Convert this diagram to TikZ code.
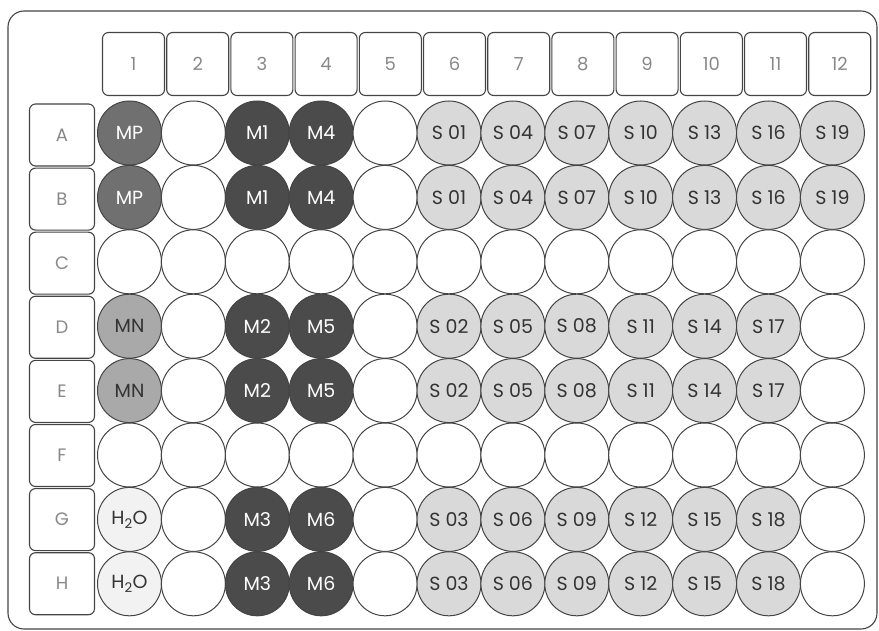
\documentclass[tikz,border=0pt]{standalone}
\usepackage{fontspec}
\setmainfont{Poppins}
\definecolor{mpfill}{HTML}{707070}
\definecolor{mfill}{HTML}{4B4B4B}
\definecolor{mnfill}{HTML}{A9A9A9}
\definecolor{sfill}{HTML}{D9D9D9}
\definecolor{hfill}{HTML}{F2F2F2}
\definecolor{edge}{HTML}{444444}
\definecolor{lbl}{HTML}{888888}
\definecolor{dtxt}{HTML}{333333}
\begin{document}
\begin{tikzpicture}[x=1pt,y=-1pt,
  hdr/.style={draw=edge,line width=1.1pt,rounded corners=6pt,minimum width=62pt,minimum height=63pt,inner sep=0pt,text=lbl,font=\fontsize{18}{18}\selectfont},
  rowlbl/.style={draw=edge,line width=1.1pt,rounded corners=6pt,minimum width=65pt,minimum height=62pt,inner sep=0pt,text=lbl,font=\fontsize{18}{18}\selectfont},
  well/.style={circle,draw=edge,line width=1pt,minimum size=64pt,inner sep=0pt,fill=white,font=\fontsize{19}{19}\selectfont},
  mp/.style={well,fill=mpfill,text=white},
  mm/.style={well,fill=mfill,text=white},
  mn/.style={well,fill=mnfill,text=dtxt},
  ss/.style={well,fill=sfill,text=dtxt},
  hw/.style={well,fill=hfill,text=dtxt}]
\useasboundingbox (0,0) rectangle (879,631);
\draw[edge,line width=1.1pt,rounded corners=16pt] (8,11) rectangle (877,629);
% column headers
\foreach \c in {1,...,12}{
  \node[hdr] (h\c) at ({133.5+(\c-1)*64.2},64) {\c};
}
% row labels
\foreach \r/\L in {1/A,2/B,3/C,4/D,5/E,6/F,7/G,8/H}{
  \node[rowlbl] (r\L) at (62,{135+(\r-1)*64.1}) {\L};
}
% well positions
\foreach \r/\L in {1/A,2/B,3/C,4/D,5/E,6/F,7/G,8/H}{
  \foreach \c in {1,...,12}{
    \coordinate (p\L\c) at ({129.5+(\c-1)*63.9},{133+(\r-1)*64.4});
  }
}
% rows A,B
\foreach \L in {A,B}{
  \node[mp] (w\L1) at (p\L1) {MP};
  \node[well] (w\L2) at (p\L2) {};
  \node[mm] (w\L3) at (p\L3) {M1};
  \node[mm] (w\L4) at (p\L4) {M4};
  \node[well] (w\L5) at (p\L5) {};
  \foreach \c/\s in {6/01,7/04,8/07,9/10,10/13,11/16,12/19}{
    \node[ss] (w\L\c) at (p\L\c) {S \s};
  }
}
% rows C,F empty
\foreach \L in {C,F}{
  \foreach \c in {1,...,12}{
    \node[well] (w\L\c) at (p\L\c) {};
  }
}
% rows D,E
\foreach \L in {D,E}{
  \node[mn] (w\L1) at (p\L1) {MN};
  \node[well] (w\L2) at (p\L2) {};
  \node[mm] (w\L3) at (p\L3) {M2};
  \node[mm] (w\L4) at (p\L4) {M5};
  \node[well] (w\L5) at (p\L5) {};
  \foreach \c/\s in {6/02,7/05,8/08,9/11,10/14,11/17}{
    \node[ss] (w\L\c) at (p\L\c) {S \s};
  }
  \node[well] (w\L12) at (p\L12) {};
}
% rows G,H
\foreach \L in {G,H}{
  \node[hw] (w\L1) at (p\L1) {H\textsubscript{2}O};
  \node[well] (w\L2) at (p\L2) {};
  \node[mm] (w\L3) at (p\L3) {M3};
  \node[mm] (w\L4) at (p\L4) {M6};
  \node[well] (w\L5) at (p\L5) {};
  \foreach \c/\s in {6/03,7/06,8/09,9/12,10/15,11/18}{
    \node[ss] (w\L\c) at (p\L\c) {S \s};
  }
  \node[well] (w\L12) at (p\L12) {};
}
\end{tikzpicture}
\end{document}
